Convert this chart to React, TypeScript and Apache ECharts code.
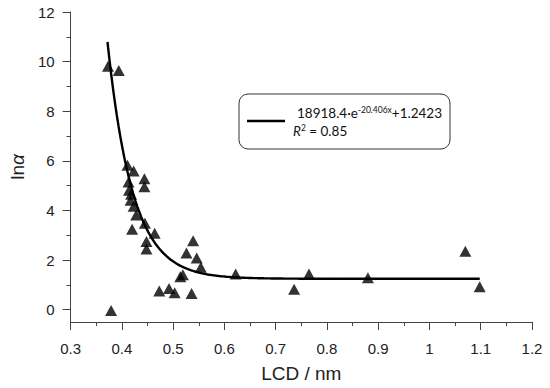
import React, { useEffect, useRef } from "react";
import * as echarts from "echarts";

// Scatter data: LCD (nm) and ln(alpha)
const lcdValues = [
  0.373, 0.394, 0.411, 0.423, 0.444, 0.413, 0.444, 0.414, 0.418, 0.417, 0.423,
  0.428, 0.445, 0.42, 0.464, 0.448, 0.448, 0.539, 0.526, 0.546, 0.554, 0.519,
  0.514, 0.473, 0.492, 0.503, 0.536, 0.622, 0.736, 0.765, 0.88, 1.07, 1.098,
  0.379,
];
const lnAlphaValues = [
  9.81, 9.64, 5.82, 5.59, 5.28, 5.15, 4.95, 4.81, 4.65, 4.41, 4.17, 3.81, 3.48,
  3.24, 3.08, 2.75, 2.44, 2.78, 2.28, 2.08, 1.71, 1.41, 1.32, 0.75, 0.85, 0.68,
  0.65, 1.44, 0.82, 1.44, 1.28, 2.35, 0.92, -0.04,
];

// Fit equation printed in the legend: y = A·e^(-k·x) + C
const fitA = 18918.4;
const fitK = 20.406;
const fitC = 1.2423;
const fitRange = [0.372, 1.098];

// Axis ticks
const xTicks = ["0.3", "0.4", "0.5", "0.6", "0.7", "0.8", "0.9", "1", "1.1", "1.2"];
const yMajorTicks = [0, 2, 4, 6, 8, 10, 12];
const yMinorTicks = [1, 3, 5, 7, 9, 11];

const FONT = "'Liberation Sans', Arial, sans-serif";
const LEGEND_FONT = "Lato, 'Liberation Sans', sans-serif";
const AXIS_COLOR = "#444";

export default function App() {
  const ref = useRef<HTMLDivElement>(null);

  useEffect(() => {
    if (!ref.current) return;
    document.body.style.margin = "0";
    const chart = echarts.init(ref.current, undefined, { renderer: "svg" });

    const scatterData = lcdValues.map((x, i) => [x, lnAlphaValues[i]]);
    const fitData: number[][] = [];
    const steps = 200;
    for (let i = 0; i <= steps; i++) {
      const x = fitRange[0] + ((fitRange[1] - fitRange[0]) * i) / steps;
      fitData.push([x, fitA * Math.exp(-fitK * x) + fitC]);
    }

    const tickLine = { color: AXIS_COLOR, width: 1 };

    chart.setOption({
      animation: false,
      backgroundColor: "#fff",
      grid: { left: 62, right: 18, top: 12, bottom: 63.5, containLabel: false },
      xAxis: {
        type: "value",
        min: 0.3,
        max: 1.2,
        interval: 0.1,
        axisLine: { show: true, onZero: false, lineStyle: tickLine },
        axisTick: { show: true, length: 8, lineStyle: tickLine },
        minorTick: { show: true, splitNumber: 2, length: 4, lineStyle: tickLine },
        splitLine: { show: false },
        minorSplitLine: { show: false },
        axisLabel: {
          margin: 19,
          fontSize: 15,
          color: "#222",
          fontFamily: FONT,
          formatter: (v: number) => {
            const idx = Math.round((v - 0.3) / 0.1);
            return xTicks[idx] ?? "";
          },
        },
        name: "LCD / nm",
        nameLocation: "middle",
        nameGap: 42,
        nameTextStyle: { fontSize: 19, color: "#222", fontFamily: FONT },
      },
      yAxis: [
        {
          type: "value",
          min: -0.5,
          max: 12,
          position: "left",
          axisLine: { show: true, onZero: false, lineStyle: tickLine },
          axisTick: { show: true, length: 8, customValues: yMajorTicks, lineStyle: tickLine },
          axisLabel: {
            customValues: yMajorTicks,
            margin: 16,
            fontSize: 15,
            color: "#222",
            fontFamily: FONT,
          },
          splitLine: { show: false },
          name: "ln{i|α}",
          nameLocation: "middle",
          nameGap: 43,
          nameRotate: 90,
          nameTextStyle: {
            fontSize: 19,
            color: "#222",
            fontFamily: FONT,
            rich: {
              i: { fontSize: 19, fontStyle: "italic", color: "#222", fontFamily: FONT },
            },
          },
        },
        {
          type: "value",
          min: -0.5,
          max: 12,
          position: "left",
          axisLine: { show: false, onZero: false },
          axisTick: { show: true, length: 4, customValues: yMinorTicks, lineStyle: tickLine },
          axisLabel: { show: false },
          splitLine: { show: false },
        },
      ],
      series: [
        {
          type: "line",
          data: fitData,
          yAxisIndex: 0,
          showSymbol: false,
          symbol: "none",
          lineStyle: { color: "#000", width: 2.4 },
          z: 2,
          silent: true,
        },
        {
          type: "scatter",
          data: scatterData,
          yAxisIndex: 0,
          symbol: "triangle",
          symbolSize: [12, 11],
          itemStyle: { color: "#000" },
          z: 3,
        },
      ],
      graphic: [
        {
          type: "rect",
          shape: { x: 239, y: 94, width: 211, height: 55, r: 9 },
          style: { fill: "#fff", stroke: "#333", lineWidth: 1 },
          z: 10,
        },
        {
          type: "line",
          shape: { x1: 247, y1: 121, x2: 285, y2: 121 },
          style: { stroke: "#000", lineWidth: 2.5 },
          z: 11,
        },
        {
          type: "text",
          x: 297,
          y: 113,
          z: 11,
          style: {
            text: "{a|18918.4·e}{s|-20.406x}{a|+1.2423}",
            verticalAlign: "middle",
            align: "left",
            rich: {
              a: { fontSize: 13.5, fontFamily: LEGEND_FONT, fill: "#111", lineHeight: 16 },
              s: {
                fontSize: 8.5,
                fontFamily: LEGEND_FONT,
                fill: "#111",
                lineHeight: 11,
                verticalAlign: "top",
              },
            },
          },
        },
        {
          type: "text",
          x: 293,
          y: 131,
          z: 11,
          style: {
            text: "{r|R}{s|2}{a| = 0.85}",
            verticalAlign: "middle",
            align: "left",
            rich: {
              r: {
                fontSize: 13.5,
                fontFamily: LEGEND_FONT,
                fontStyle: "italic",
                fill: "#111",
                lineHeight: 16,
              },
              a: { fontSize: 13.5, fontFamily: LEGEND_FONT, fill: "#111", lineHeight: 16 },
              s: {
                fontSize: 8.5,
                fontFamily: LEGEND_FONT,
                fill: "#111",
                lineHeight: 11,
                verticalAlign: "top",
              },
            },
          },
        },
      ],
    });

    return () => chart.dispose();
  }, []);

  return (
    <div
      ref={ref}
      style={{ width: 550, height: 388, position: "absolute", left: 0, top: 0 }}
    />
  );
}
